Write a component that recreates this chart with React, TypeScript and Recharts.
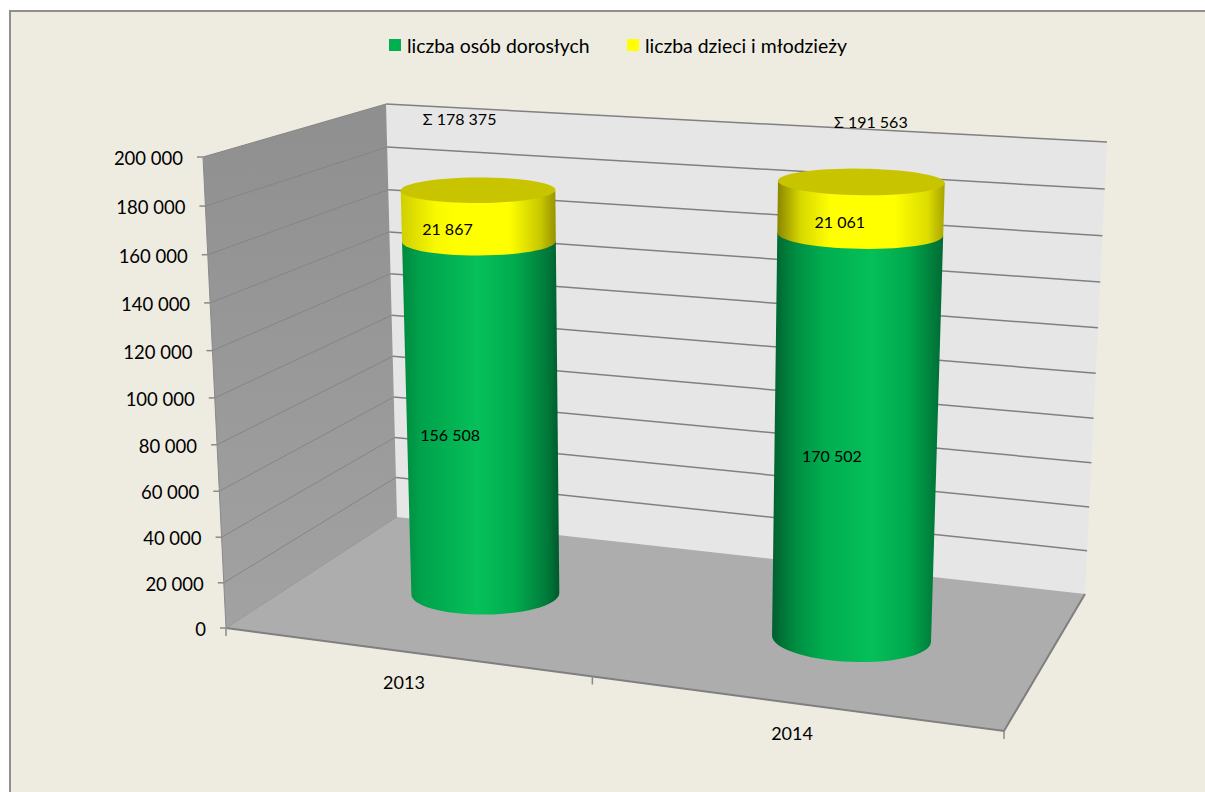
import { ComposedChart, Bar, Line, XAxis, YAxis, Legend } from "recharts";

const years = ["2013", "2014"];
const adults = [156508, 170502];
const youth = [21867, 21061];
const totals = [178375, 191563];
const valueTicks = [0, 20000, 40000, 60000, 80000, 100000, 120000, 140000, 160000, 180000, 200000];
const adultsName = "liczba osób dorosłych";
const youthName = "liczba dzieci i młodzieży";

const rows = years.map((year, i) => ({ year, adults: adults[i], youth: youth[i], total: totals[i] }));

const FONT = "Lato, sans-serif";
const MAX = 200000;
const PLOT_LEFT = 226;
const PLOT_WIDTH = 778;

// corners of the 3D box as Excel drew it
const FLOOR = { fl: [226, 628], fr: [1004, 731], bl: [397, 517], br: [1085, 594] };
const CEIL = { fl: [203, 157], fr: [1022, 207], bl: [386, 104], br: [1107, 142] };

const mix = (a: number, b: number, k: number) => a + (b - a) * k;

function corner(q: typeof FLOOR, u: number, w: number) {
  const front = [mix(q.fl[0], q.fr[0], u), mix(q.fl[1], q.fr[1], u)];
  const back = [mix(q.bl[0], q.br[0], u), mix(q.bl[1], q.br[1], u)];
  return [mix(front[0], back[0], w), mix(front[1], back[1], w)];
}

// u along the categories, w into the depth, t up the value axis (all 0..1)
function project(u: number, w: number, t: number) {
  const c = 0.11 - 0.08 * w;
  const pu = (u * (1 - c)) / (1 - c * u);
  const pt = (t * 0.955) / (1 - 0.045 * t);
  const a = corner(FLOOR, pu, w);
  const b = corner(CEIL, pu, w);
  return { x: mix(a[0], b[0], pt), y: mix(a[1], b[1], pt) };
}

const poly = (pts: { x: number; y: number }[]) => pts.map((p) => `${p.x},${p.y}`).join(" ");
const fmt = (n: number) => String(n).replace(/\B(?=(\d{3})+$)/g, " ");

// one horizontal circle of the cylinder, as it looks in the picture
function ring(u0: number, u1: number, tRaw: number) {
  const t = tRaw * 1.004;
  const uc = (u0 + u1) / 2;
  const l = project(u0, 0.5, t);
  const r = project(u1, 0.5, t);
  const cx = (l.x + r.x) / 2;
  const cy = project(uc, 0.5, t).y;
  const rx = (r.x - l.x) / 2;
  const dw = 0.18 + 0.03 * t;
  const ry = (project(uc, 0.5 - dw, t).y - project(uc, 0.5 + dw, t).y) / 2;
  const s = (((cx - 560) * 0.008 * (1 - 0.7 * t)) * Math.PI) / 180;
  const at = (deg: number) => {
    const a = (deg * Math.PI) / 180;
    const ex = rx * Math.cos(a);
    const ey = ry * Math.sin(a);
    return { x: cx + ex * Math.cos(s) - ey * Math.sin(s), y: cy + ex * Math.sin(s) + ey * Math.cos(s) };
  };
  return { cx, cy, at };
}

const sweep = (from: number, to: number) => {
  const out: number[] = [];
  for (let a = from; from < to ? a <= to : a >= to; a += from < to ? 6 : -6) out.push(a);
  return out;
};

function Cylinder(props: any) {
  const { x, y, width, height, background, index, kind } = props;
  const u0 = (x - PLOT_LEFT) / PLOT_WIDTH;
  const u1 = (x + width - PLOT_LEFT) / PLOT_WIDTH;
  const base = background.y + background.height;
  const top = ring(u0, u1, (base - y) / background.height);
  const bot = ring(u0, u1, (base - (y + height)) / background.height);
  const side = [top.at(180), ...sweep(180, 0).map(bot.at), top.at(0)];
  const isYouth = kind === "youth";
  const value = isYouth ? youth[index] : adults[index];
  const labelDx = isYouth ? [-31, -21][index] : [-32, -24][index];
  const labelDy = isYouth ? 13 : [17, 19][index];
  return (
    <g>
      <polygon points={poly(side)} fill={`url(#${kind}${index})`} />
      {isYouth && <polygon points={poly(sweep(0, 354).map(top.at))} fill="#c8c400" />}
      <text x={(top.cx + bot.cx) / 2 + labelDx} y={(top.cy + bot.cy) / 2 + labelDy} textAnchor="middle" dominantBaseline="central"
        fontFamily={FONT} fontSize={16} fill="#000">{fmt(value)}</text>
    </g>
  );
}

function Stops({ colors }: { colors: [number, string][] }) {
  return (
    <>
      {colors.map(([o, c]) => <stop key={o} offset={`${o}%`} stopColor={c} />)}
    </>
  );
}

function Box() {
  const fl0 = project(0, 0, 0), fr0 = project(1, 0, 0), bl0 = project(0, 1, 0), br0 = project(1, 1, 0);
  const fl1 = project(0, 0, 1), bl1 = project(0, 1, 1), br1 = project(1, 1, 1);
  return (
    <g>
      <defs>
        <linearGradient id="sideWall" x1="0" y1="0" x2="0" y2="1">
          <Stops colors={[[0, "#8f8f8f"], [100, "#a2a2a2"]]} />
        </linearGradient>
        <linearGradient id="adults0" x1="0" y1="0" x2="1" y2="0">
          <Stops colors={[[0, "#008a40"], [12, "#00a24b"], [48, "#06c05a"], [72, "#00ab4e"], [92, "#007a3a"], [100, "#005a2c"]]} />
        </linearGradient>
        <linearGradient id="adults1" x1="0" y1="0" x2="1" y2="0">
          <Stops colors={[[0, "#005f2e"], [14, "#008e42"], [30, "#00ad4f"], [58, "#05bf59"], [80, "#00a84d"], [100, "#006a33"]]} />
        </linearGradient>
        <linearGradient id="youth0" x1="0" y1="0" x2="1" y2="0">
          <Stops colors={[[0, "#cfcf00"], [22, "#f8f800"], [35, "#ffff00"], [70, "#ffff00"], [90, "#c8c800"], [100, "#979300"]]} />
        </linearGradient>
        <linearGradient id="youth1" x1="0" y1="0" x2="1" y2="0">
          <Stops colors={[[0, "#8a8500"], [14, "#d8d800"], [32, "#ffff00"], [70, "#ffff00"], [90, "#dcdc00"], [100, "#a8a400"]]} />
        </linearGradient>
      </defs>
      <polygon points={poly([bl0, br0, br1, bl1])} fill="#e6e6e6" />
      <polygon points={poly([fl0, bl0, bl1, fl1])} fill="url(#sideWall)" />
      <polygon points={poly([fl0, fr0, br0, bl0])} fill="#adadad" />
      {valueTicks.map((v) => {
        const t = v / MAX;
        const a = project(0, 0, t), b = project(0, 1, t), c = project(1, 1, t);
        return (
          <g key={v}>
            {v > 0 && <line x1={a.x} y1={a.y} x2={b.x} y2={b.y} stroke="#858585" strokeWidth={1} />}
            {v > 0 && <line x1={b.x} y1={b.y} x2={c.x} y2={c.y} stroke="#808080" strokeWidth={1.5} />}
          </g>
        );
      })}
      <line x1={fl0.x} y1={fl0.y} x2={fl1.x} y2={fl1.y} stroke="#8a8a8a" strokeWidth={1} />
      <polyline points={poly([fl0, fr0, br0])} fill="none" stroke="#7f7f7f" strokeWidth={2} />
      <line x1={fl0.x} y1={fl0.y} x2={bl0.x} y2={bl0.y} stroke="#969696" strokeWidth={1} />
      {[0, 0.5, 1].map((u) => {
        const p = project(u, 0, 0);
        return <line key={u} x1={p.x} y1={p.y} x2={p.x} y2={p.y + 8} stroke="#8a8a8a" strokeWidth={1.5} />;
      })}
    </g>
  );
}

function ValueTick(props: any) {
  const t = props.payload.value / MAX;
  const p = project(0, 0, t);
  return (
    <g>
      <line x1={p.x - 6} y1={p.y} x2={p.x} y2={p.y} stroke="#8a8a8a" strokeWidth={1.5} />
      <text x={p.x - 20} y={p.y + 1} textAnchor="end" dominantBaseline="central" fontFamily={FONT} fontSize={18.5} fill="#000">
        {fmt(props.payload.value)}
      </text>
    </g>
  );
}

function YearTick(props: any) {
  const p = project((props.x - PLOT_LEFT) / PLOT_WIDTH, 0, 0);
  return (
    <text x={p.x} y={p.y + 30} textAnchor="middle" dominantBaseline="central" fontFamily={FONT} fontSize={18} fill="#000">
      {props.payload.value}
    </text>
  );
}

function TotalLabel(props: any) {
  const { index } = props;
  const shift = [{ x: -18, y: 118 }, { x: 10, y: 121 }][index];
  const bandLeft = index / years.length;
  const p = project(bandLeft + 0.25, 0.5, totals[index] / MAX);
  return (
    <text x={p.x + shift.x} y={shift.y} textAnchor="middle" dominantBaseline="central" fontFamily={FONT} fontSize={16} fill="#000">
      {"Σ " + fmt(totals[index])}
    </text>
  );
}

function LegendBox() {
  const items = [
    { name: adultsName, color: "#00b050", left: 389 },
    { name: youthName, color: "#ffff00", left: 627 },
  ];
  return (
    <div style={{ position: "relative", height: 30, width: 1205 }}>
      {items.map((it) => (
        <div key={it.name} style={{ position: "absolute", left: it.left, top: 0, display: "flex", alignItems: "center", height: 30, fontFamily: FONT, fontSize: 19.4, color: "#000", whiteSpace: "nowrap" }}>
          <span style={{ width: 12, height: 12, background: it.color, marginRight: 6, display: "inline-block" }} />
          {it.name}
        </div>
      ))}
    </div>
  );
}

export default function App() {
  return (
    <div style={{ position: "absolute", left: 0, top: 0, width: 1205, height: 792, overflow: "hidden", background: "#fff" }}>
      <div style={{ position: "absolute", left: 9, top: 10, right: -4, bottom: -4, background: "#eeebe0", border: "2px solid #8f8f8f" }} />
      <div style={{ position: "absolute", left: 0, top: 0 }}>
        <ComposedChart width={1205} height={792} data={rows} barCategoryGap="29%"
          margin={{ top: 157, right: 201, bottom: 134, left: 126 }}>
          <Box />
          <XAxis dataKey="year" height={30} axisLine={false} tickLine={false} tick={YearTick} interval={0} />
          <YAxis width={100} domain={[0, MAX]} ticks={valueTicks} interval={0} axisLine={false} tickLine={false} tick={ValueTick} />
          <Legend verticalAlign="top" content={LegendBox} wrapperStyle={{ top: 30, left: 0, width: 1205 }} />
          <Bar dataKey="adults" name={adultsName} stackId="a" fill="#00b050" isAnimationActive={false}
            shape={(p: any) => <Cylinder {...p} kind="adults" />} />
          <Bar dataKey="youth" name={youthName} stackId="a" fill="#ffff00" isAnimationActive={false}
            shape={(p: any) => <Cylinder {...p} kind="youth" />} />
          <Line dataKey="total" stroke="none" dot={false} activeDot={false} legendType="none" isAnimationActive={false}
            label={(p: any) => <TotalLabel key={p.index} {...p} />} />
        </ComposedChart>
      </div>
    </div>
  );
}
